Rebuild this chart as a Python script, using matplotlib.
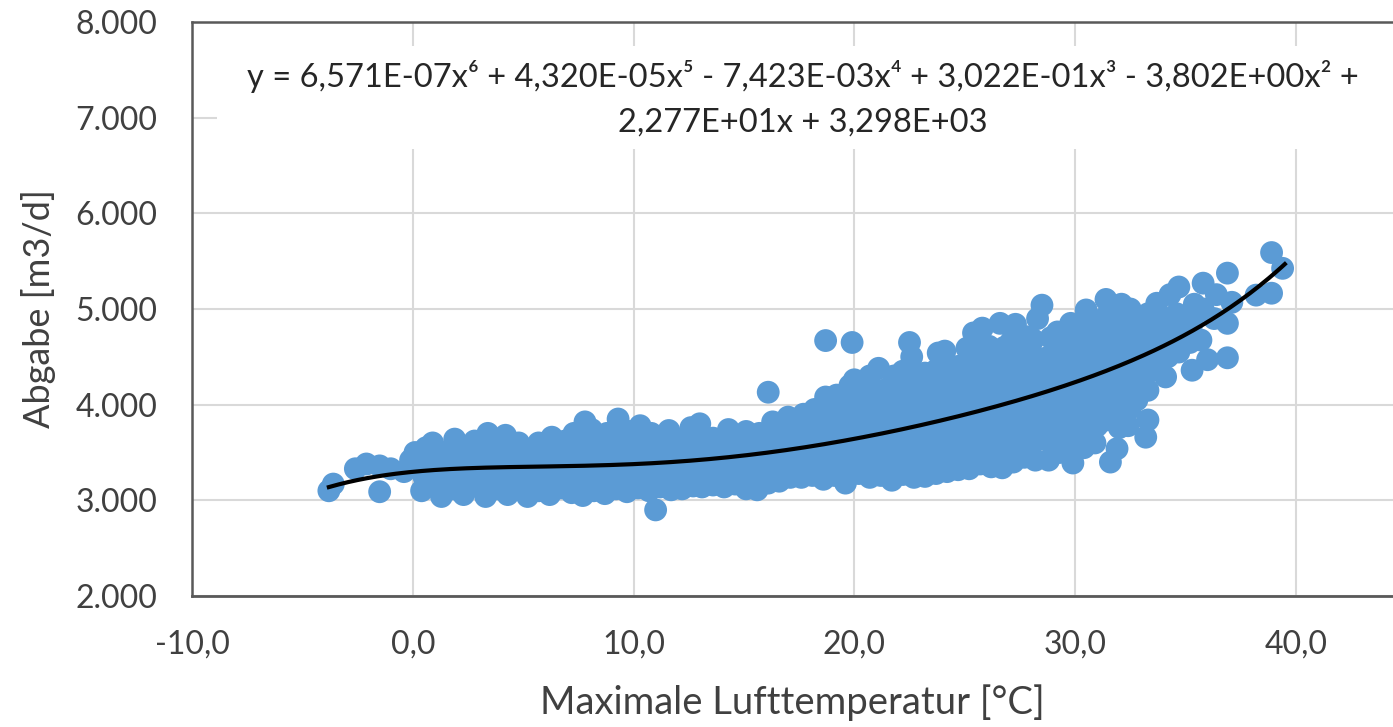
import matplotlib
matplotlib.use("Agg")
import matplotlib.pyplot as plt
import numpy as np
from matplotlib.patches import Rectangle

# ---- data ----
temp = [
    -3.8, -3.6, -2.6, -2.1, -1.5, -1.5, -1.0, -0.4, -0.1, 0.1,
    0.4, 0.5, 0.3, 0.6,
    0.9, 1.0, 0.8, 0.9,
    1.3, 1.4, 1.2, 1.3,
    1.8, 1.7, 1.9, 1.9,
    2.3, 2.2, 2.4, 2.3,
    2.8, 2.9, 2.7, 2.8,
    3.3, 3.4, 3.2, 3.3, 3.4,
    3.8, 3.7, 3.9, 3.8,
    4.3, 4.4, 4.2, 4.3, 4.2,
    4.8, 4.9, 4.7, 4.8,
    5.2, 5.1, 5.3, 5.2,
    5.7, 5.8, 5.6, 5.7,
    6.2, 6.3, 6.1, 6.2, 6.3,
    6.7, 6.6, 6.8, 6.9,
    7.2, 7.3, 7.1, 7.2, 7.3,
    7.7, 7.8, 7.6, 7.7, 7.8, 7.8,
    8.2, 8.1, 8.3, 8.2, 8.1,
    8.7, 8.8, 8.6, 8.7, 8.8,
    9.2, 9.1, 9.3, 9.2, 9.3,
    9.7, 9.8, 9.6, 9.7, 9.8,
    10.2, 10.1, 10.3, 10.2, 10.3,
    10.7, 10.8, 10.6, 10.7, 10.8,
    11.0,
    11.2, 11.3, 11.1, 11.2,
    11.7, 11.6, 11.8, 11.7, 11.6,
    12.2, 12.3, 12.1, 12.2,
    12.7, 12.6, 12.8, 12.7, 12.6,
    13.1, 13.2, 13.0, 13.1, 13.0,
    13.6, 13.7, 13.5, 13.6,
    14.1, 14.0, 14.2, 14.1, 14.3,
    14.6, 14.7, 14.5, 14.6,
    15.1, 15.0, 15.2, 15.1, 15.1,
    15.6, 15.7, 15.5, 15.6, 15.7,
    16.1, 16.0, 16.2, 16.1, 16.3, 16.1,
    16.6, 16.7, 16.5, 16.6, 16.7,
    17.1, 17.0, 17.2, 17.1, 17.0,
    17.6, 17.7, 17.5, 17.6, 17.7,
    18.1, 18.0, 18.2, 18.1, 18.2,
    18.6, 18.7, 18.5, 18.6, 18.7, 18.7, 18.7,
    19.1, 19.0, 19.2, 19.1, 19.0, 19.2,
    19.6, 19.7, 19.5, 19.6, 19.7, 19.5, 19.8,
    19.9,
    20.2, 20.1, 20.3, 20.2, 20.1, 20.3, 20.0,
    20.7, 20.8, 20.6, 20.7, 20.8, 20.6, 20.7,
    21.2, 21.1, 21.3, 21.2, 21.1, 21.3, 21.1,
    21.7, 21.8, 21.6, 21.7, 21.8, 21.6, 21.8,
    22.2, 22.1, 22.3, 22.2, 22.1, 22.3, 22.2,
    22.5,
    22.7, 22.8, 22.6, 22.7, 22.8, 22.6, 22.7, 22.6,
    23.2, 23.1, 23.3, 23.2, 23.1, 23.3, 23.2,
    23.7, 23.8, 23.6, 23.7, 23.8, 23.6, 23.7, 23.8,
    24.2, 24.1, 24.3, 24.2, 24.1, 24.3, 24.2, 24.1,
    24.7, 24.8, 24.6, 24.7, 24.8, 24.6, 24.7,
    25.2, 25.1, 25.3, 25.2, 25.1, 25.3, 25.2, 25.1, 25.4,
    25.7, 25.8, 25.6, 25.7, 25.8, 25.6, 25.7, 25.8, 25.8,
    26.2, 26.1, 26.3, 26.2, 26.1, 26.3, 26.2, 26.1,
    26.7, 26.8, 26.6, 26.7, 26.8, 26.6, 26.7, 26.8, 26.6,
    27.2, 27.1, 27.3, 27.2, 27.1, 27.3, 27.2, 27.1, 27.3,
    27.7, 27.8, 27.6, 27.7, 27.8, 27.6, 27.7, 27.8,
    28.2, 28.1, 28.3, 28.2, 28.1, 28.3, 28.2, 28.1, 28.3,
    28.5,
    28.8, 28.9, 28.7, 28.8, 28.9, 28.7, 28.8, 28.9,
    29.3, 29.2, 29.4, 29.3, 29.2, 29.4, 29.3, 29.2,
    29.9, 30.0, 29.8, 29.9, 30.0, 29.8, 29.9, 30.0, 29.8,
    30.4, 30.3, 30.5, 30.4, 30.3, 30.5, 30.4, 30.3, 30.5,
    30.9, 31.0, 30.8, 30.9, 31.0, 30.8, 30.9, 31.0,
    31.4, 31.3, 31.5, 31.4, 31.3, 31.5, 31.4, 31.4,
    31.6,
    31.9, 32.0, 31.8, 31.9, 32.0, 31.8, 31.9, 32.0, 32.1,
    32.4, 32.5, 32.3, 32.4, 32.5, 32.3, 32.4, 32.5,
    33.2, 32.8, 32.9, 32.8, 32.9, 32.8,
    33.3, 33.3, 33.4, 33.3, 33.4, 33.3,
    33.8, 33.9, 33.8, 33.7,
    34.1, 34.2, 34.3, 34.2, 34.3,
    34.7, 34.8, 34.6, 34.7,
    35.3, 35.2, 35.3, 35.4,
    36.0, 35.7, 35.8, 35.8,
    36.3, 36.4,
    36.9, 36.9, 37.1, 36.9,
    38.2,
    38.9, 38.9,
    39.4,
]

abgabe = [
    3100, 3170, 3330, 3380, 3360, 3090, 3330, 3300, 3420, 3500,
    3100, 3250, 3400, 3550,
    3180, 3330, 3480, 3600,
    3040, 3200, 3350, 3500,
    3120, 3280, 3450, 3640,
    3060, 3220, 3380, 3560,
    3150, 3300, 3470, 3620,
    3040, 3210, 3380, 3540, 3700,
    3120, 3280, 3440, 3600,
    3060, 3230, 3400, 3560, 3680,
    3140, 3300, 3460, 3600,
    3040, 3200, 3360, 3520,
    3100, 3260, 3420, 3600,
    3060, 3220, 3380, 3540, 3660,
    3130, 3300, 3470, 3620,
    3080, 3240, 3400, 3560, 3700,
    3050, 3180, 3340, 3500, 3660, 3820,
    3100, 3260, 3420, 3580, 3740,
    3070, 3220, 3380, 3540, 3700,
    3120, 3280, 3440, 3600, 3850,
    3090, 3250, 3410, 3570, 3720,
    3130, 3300, 3460, 3620, 3780,
    3100, 3260, 3420, 3580, 3700,
    2900,
    3140, 3300, 3470, 3640,
    3110, 3270, 3430, 3590, 3730,
    3120, 3290, 3450, 3610,
    3150, 3320, 3480, 3650, 3760,
    3140, 3300, 3460, 3620, 3800,
    3160, 3330, 3490, 3650,
    3140, 3300, 3460, 3620, 3740,
    3170, 3340, 3500, 3660,
    3120, 3280, 3440, 3600, 3720,
    3110, 3270, 3430, 3590, 3700,
    3180, 3350, 3520, 3680, 3820, 4130,
    3200, 3370, 3540, 3700, 3800,
    3240, 3400, 3560, 3720, 3870,
    3240, 3410, 3580, 3750, 3900,
    3260, 3430, 3600, 3770, 3950,
    3220, 3390, 3560, 3730, 3900, 4080, 4670,
    3260, 3430, 3600, 3770, 3940, 4100,
    3180, 3350, 3520, 3690, 3860, 4030, 4200,
    4650,
    3280, 3450, 3620, 3790, 3960, 4130, 4260,
    3240, 3420, 3600, 3780, 3950, 4120, 4300,
    3260, 3440, 3620, 3800, 3980, 4150, 4380,
    3210, 3390, 3570, 3750, 3930, 4110, 4300,
    3270, 3450, 3630, 3810, 3990, 4170, 4350,
    4650,
    3240, 3420, 3600, 3780, 3960, 4140, 4320, 4500,
    3250, 3430, 3610, 3790, 3970, 4150, 4330,
    3280, 3460, 3640, 3820, 4000, 4180, 4360, 4540,
    3300, 3480, 3660, 3840, 4020, 4200, 4380, 4560,
    3320, 3500, 3680, 3860, 4040, 4220, 4400,
    3330, 3510, 3690, 3870, 4050, 4230, 4410, 4590, 4750,
    3380, 3560, 3740, 3920, 4100, 4280, 4460, 4640, 4800,
    3350, 3530, 3710, 3890, 4070, 4250, 4430, 4610,
    3340, 3520, 3700, 3880, 4060, 4240, 4420, 4600, 4850,
    3400, 3580, 3760, 3940, 4120, 4300, 4480, 4660, 4840,
    3450, 3630, 3810, 3990, 4170, 4350, 4530, 4710,
    3420, 3600, 3780, 3960, 4140, 4320, 4500, 4680, 4900,
    5040,
    3420, 3600, 3780, 3960, 4140, 4320, 4500, 4700,
    3500, 3680, 3860, 4040, 4220, 4400, 4580, 4760,
    3390, 3570, 3750, 3930, 4110, 4290, 4470, 4650, 4850,
    3550, 3730, 3910, 4090, 4270, 4450, 4630, 4810, 4990,
    3600, 3780, 3960, 4140, 4320, 4500, 4680, 4860,
    3840, 4020, 4200, 4380, 4560, 4740, 4920, 5100,
    3400,
    3540, 3760, 3950, 4130, 4310, 4490, 4670, 4850, 5050,
    3780, 3960, 4140, 4320, 4500, 4680, 4860, 5000,
    3660, 4050, 4250, 4450, 4650, 4850,
    3840, 4150, 4350, 4550, 4750, 4950,
    4430, 4600, 4800, 5060,
    4290, 4500, 4700, 4900, 5150,
    4550, 4750, 4950, 5230,
    4360, 4650, 4850, 5050,
    4470, 4675, 5000, 5270,
    4900, 5150,
    4490, 4850, 5070, 5375,
    5145,
    5165, 5590,
    5425,
]

# polynomial trendline coefficients (as printed on the chart), highest power first
trend_coeffs = [6.571e-07, 4.320e-05, -7.423e-03, 3.022e-01, -3.802e+00, 2.277e+01, 3.298e+03]
trend_span = [-3.8, 39.5]

x_ticks = [-10, 0, 10, 20, 30, 40]
x_tick_labels = ["-10,0", "0,0", "10,0", "20,0", "30,0", "40,0"]
y_ticks = [2000, 3000, 4000, 5000, 6000, 7000, 8000]
y_tick_labels = ["2.000", "3.000", "4.000", "5.000", "6.000", "7.000", "8.000"]

equation = ("y = 6,571E-07x\u2076 + 4,320E-05x\u2075 - 7,423E-03x\u2074 + 3,022E-01x\u00b3 - 3,802E+00x\u00b2 +\n"
            "2,277E+01x + 3,298E+03")
x_label = "Maximale Lufttemperatur [°C]"
y_label = "Abgabe [m3/d]"

# ---- drawing ----
FONT = ["Lato", "DejaVu Sans"]
plt.rcParams["font.family"] = FONT

W, H = 1393, 727
fig = plt.figure(figsize=(W / 100, H / 100), dpi=100)
ax = fig.add_axes([192 / W, 1 - 596 / H, (W - 192) / W, (596 - 22) / H])

ax.set_xlim(-10, 44.4)
ax.set_ylim(2000, 8000)

ax.set_xticks(x_ticks)
ax.set_xticklabels(x_tick_labels)
ax.set_yticks(y_ticks)
ax.set_yticklabels(y_tick_labels)
ax.tick_params(axis="both", length=0, labelsize=23, colors="#404040")
ax.tick_params(axis="y", pad=25)
ax.tick_params(axis="x", pad=24)

ax.grid(True, color="#D9D9D9", linewidth=1.5, zorder=0)
ax.set_axisbelow(True)

for side in ["left", "top"]:
    ax.spines[side].set_color("#595959")
    ax.spines[side].set_linewidth(1.8)
ax.spines["bottom"].set_color("#595959")
ax.spines["bottom"].set_linewidth(2.0)
ax.spines["right"].set_visible(False)

ax.scatter(temp, abgabe, s=270, color="#5B9BD5", edgecolors="none", zorder=2)

xs = np.linspace(trend_span[0], trend_span[1], 300)
ax.plot(xs, np.polyval(trend_coeffs, xs), color="black", linewidth=3.0, zorder=3)

# white background of the equation label (hides gridlines behind it)
ax.add_patch(Rectangle((0.021, 0.778), 0.985, 0.18, transform=ax.transAxes,
                       facecolor="white", edgecolor="none", zorder=4, clip_on=False))
ax.text(0.509, 0.867, equation, transform=ax.transAxes, ha="center", va="center",
        fontsize=23.5, color="#262626", linespacing=1.6, zorder=5)

ax.set_xlabel(x_label, fontsize=27.5, color="#404040", labelpad=18)
ax.set_ylabel(y_label, fontsize=26, color="#404040", labelpad=14)

fig.savefig("out.png", dpi=100, facecolor="white")
